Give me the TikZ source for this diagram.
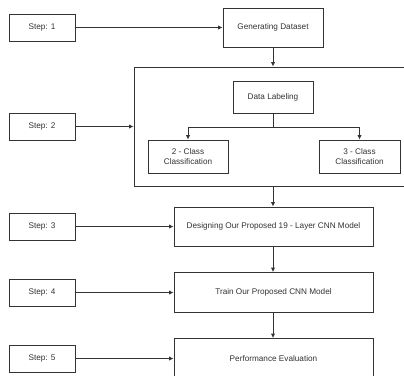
\documentclass[tikz,border=0pt]{standalone}
\usepackage{fontspec}
\setmainfont{Liberation Sans}
\usepackage{xcolor}
\usepackage{tikz}
\usetikzlibrary{arrows.meta}

\definecolor{ink}{HTML}{333333}

\tikzset{
    box/.style={draw=ink, line width=0.9pt, fill=white, text=ink, align=center,
        inner sep=1pt, font=\fontsize{8.2}{9.6}\selectfont},
    stepbox/.style={box, minimum width=66pt, minimum height=27pt},
    flow/.style={draw=ink, line width=0.9pt, -{Latex[length=4.5pt,width=4.5pt]}}
}

\begin{document}
\begin{tikzpicture}[x=1pt,y=-1pt]
        \clip (0,0) rectangle (404,375);
        \fill[white] (0,0) rectangle (404,375);

        % steps on the left
        \node[stepbox] (s1) at (42,27.5)  {Step: 1};
        \node[stepbox] (s2) at (42,126.5) {Step: 2};
        \node[stepbox] (s3) at (42,226.5) {Step: 3};
        \node[stepbox] (s4) at (42,292.5) {Step: 4};
        \node[stepbox] (s5) at (42,358.5) {Step: 5};

        % main column
        \node[box, minimum width=100pt, minimum height=39pt] (gen) at (273,27.5) {Generating Dataset};
        \node[box, minimum width=276pt, minimum height=119pt] (grp) at (272,126.5) {};
        \node[box, minimum width=80pt, minimum height=32pt] (lab) at (273,97) {Data Labeling};
        \node[box, minimum width=80pt, minimum height=33pt] (c2) at (188,156.5) {2 - Class\\Classification};
        \node[box, minimum width=81pt, minimum height=33pt] (c3) at (359.5,156.5) {3 - Class\\Classification};
        \node[box, minimum width=199pt, minimum height=39pt] (des) at (273.5,226.5) {Designing Our Proposed 19 - Layer CNN Model};
        \node[box, minimum width=199pt, minimum height=40pt] (train) at (273.5,292.5) {Train Our Proposed CNN Model};
        \node[box, minimum width=199pt, minimum height=40pt] (perf) at (273.5,358.5) {Performance Evaluation};

        \coordinate (br) at (273,127);

        \draw[flow] (s1) -- (gen);
        \draw[flow] (s2) -- (grp.west |- s2);
        \draw[flow] (s3) -- (des);
        \draw[flow] (s4) -- (train);
        \draw[flow] (s5) -- (perf);

        \draw[flow] (gen) -- (gen.south |- grp.north);
        \draw[draw=ink, line width=0.9pt] (lab) -- (br);
        \draw[flow] (br) -| (c2);
        \draw[flow] (br) -| (c3);
        \draw[flow] (grp.south -| gen.south) -- (des.north -| gen.south);
        \draw[flow] (des.south -| gen.south) -- (train.north -| gen.south);
        \draw[flow] (train.south -| gen.south) -- (perf.north -| gen.south);
    \end{tikzpicture}
\end{document}
